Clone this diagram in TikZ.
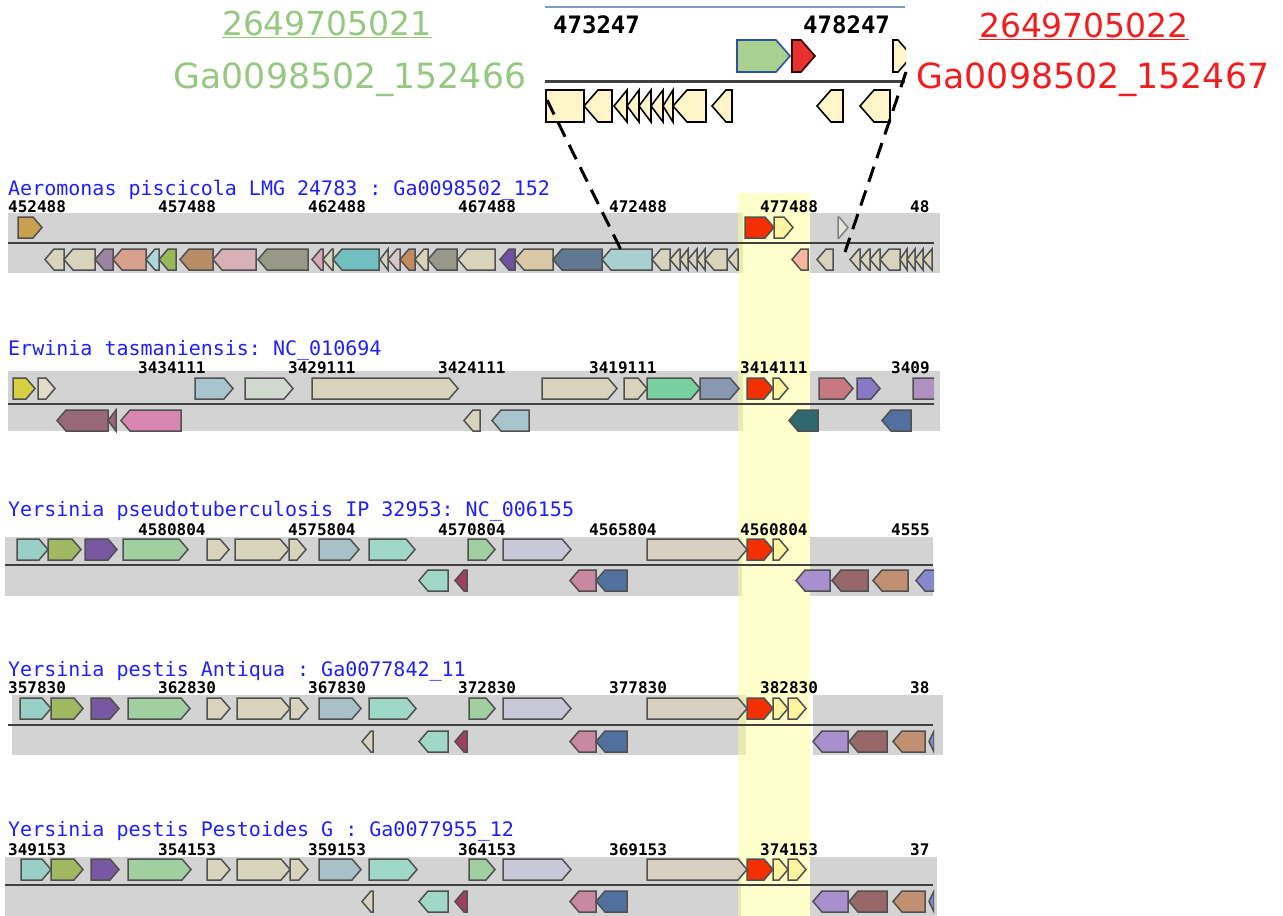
\documentclass[tikz,border=0pt]{standalone}
\usepackage{fontspec}
\setmainfont{DejaVu Sans}
\setmonofont{DejaVu Sans Mono}

\definecolor{bandgray}{HTML}{D3D3D3}
\definecolor{hilite}{HTML}{FFFF99}
\definecolor{genegray}{HTML}{505050}
\definecolor{strandgray}{HTML}{404040}
\definecolor{orgblue}{HTML}{2020FA}
\definecolor{idgreen}{HTML}{96C882}
\definecolor{idred}{HTML}{F01E1E}
\definecolor{axisblue}{HTML}{7A9CC0}
\definecolor{zyellow}{HTML}{FFF5C8}
\definecolor{zgreen}{HTML}{A8D090}
\definecolor{zblue}{HTML}{3050A0}
\definecolor{zred}{HTML}{E83030}
\definecolor{cGold}{HTML}{C8A050}
\definecolor{cBeige}{HTML}{D8D4BC}
\definecolor{cMauve}{HTML}{9A85A0}
\definecolor{cSalmon}{HTML}{D8A08C}
\definecolor{cIce}{HTML}{A8D8DC}
\definecolor{cLeaf}{HTML}{98B858}
\definecolor{cBrown}{HTML}{B88C64}
\definecolor{cRose}{HTML}{D8B0B8}
\definecolor{cStone}{HTML}{989888}
\definecolor{cPink}{HTML}{D8A8B8}
\definecolor{cTeal}{HTML}{70C0C0}
\definecolor{cBlush}{HTML}{D8C8C8}
\definecolor{cRust}{HTML}{C08C60}
\definecolor{cViolet}{HTML}{7050A0}
\definecolor{cSand}{HTML}{D8C8A8}
\definecolor{cSlate}{HTML}{607890}
\definecolor{cAqua}{HTML}{A8D0D0}
\definecolor{cPeach}{HTML}{F8B8A0}
\definecolor{cRed}{HTML}{F53000}
\definecolor{cLemon}{HTML}{FFF5A0}
\definecolor{cPale}{HTML}{E4E4DC}
\definecolor{cCitron}{HTML}{D8D040}
\definecolor{cCream}{HTML}{E0DCC8}
\definecolor{cSky}{HTML}{A8C4CC}
\definecolor{cMist}{HTML}{D0D8D0}
\definecolor{cMint}{HTML}{78D0A0}
\definecolor{cDusk}{HTML}{8898B0}
\definecolor{cCoral}{HTML}{C87880}
\definecolor{cIris}{HTML}{8878C8}
\definecolor{cLilac}{HTML}{B090C0}
\definecolor{cPlum}{HTML}{986878}
\definecolor{cMagenta}{HTML}{D888B0}
\definecolor{cDeepTeal}{HTML}{306870}
\definecolor{cSteel}{HTML}{5070A0}
\definecolor{cSea}{HTML}{98D0C8}
\definecolor{cOlive}{HTML}{A0B860}
\definecolor{cGrape}{HTML}{7858A0}
\definecolor{cSage}{HTML}{A0D0A0}
\definecolor{cDove}{HTML}{A8C0C8}
\definecolor{cSpray}{HTML}{A0D8C8}
\definecolor{cLav}{HTML}{C8C8D8}
\definecolor{cTaupe}{HTML}{D8D0C0}
\definecolor{cMaroon}{HTML}{A04060}
\definecolor{cOrchid}{HTML}{C888A0}
\definecolor{cLavDark}{HTML}{A890D0}
\definecolor{cCocoa}{HTML}{986868}
\definecolor{cCamel}{HTML}{C09070}
\definecolor{cPeri}{HTML}{8888D0}

\tikzset{
  gene/.style={draw=genegray, line width=1.5pt},
  band/.style={fill=bandgray},
  strand/.style={draw=strandgray, line width=2.2pt},
  orgname/.style={anchor=base west, inner sep=0pt, text=orgblue, font=\fontsize{20}{22}\ttfamily},
  coord/.style={anchor=base west, inner sep=0pt, font=\fontsize{16}{18}\ttfamily\bfseries},
  bigcoord/.style={anchor=base west, inner sep=0pt, font=\fontsize{24}{26}\ttfamily\bfseries},
  geneid/.style={anchor=base, inner sep=0pt, font=\fontsize{33}{36}\selectfont},
  zoomlink/.style={black, line width=3pt, dash pattern=on 16pt off 9pt}
}

% forward / reverse gene: start, end, fill (lane taken from \fT,\fB / \rT,\rB)
\newcommand{\fg}[3]{%
  \pgfmathsetmacro{\hcut}{min(\hlen,#2-#1)}%
  \draw[gene,fill=#3] (#1,\fT) -- ({#2-\hcut},\fT) -- (#2,{(\fT+\fB)/2})
    -- ({#2-\hcut},\fB) -- (#1,\fB) -- cycle;}
\newcommand{\rg}[3]{%
  \pgfmathsetmacro{\hcut}{min(\hlen,#2-#1)}%
  \draw[gene,fill=#3] (#2,\rT) -- ({#1+\hcut},\rT) -- (#1,{(\rT+\rB)/2})
    -- ({#1+\hcut},\rB) -- (#2,\rB) -- cycle;}

\begin{document}
\begin{tikzpicture}[x=1pt,y=-1pt]
\useasboundingbox (0,0) rectangle (1283,916);

\node[geneid, text=idgreen] (idL) at (327,35) {\underline{2649705021}};
\node[geneid, text=idgreen, font=\fontsize{34.7}{38}\selectfont] (locL) at (350,88) {Ga0098502\_152466};
\node[geneid, text=idred] (idR) at (1084,37) {\underline{2649705022}};
\node[geneid, text=idred, font=\fontsize{34.7}{38}\selectfont] (locR) at (1093,88) {Ga0098502\_152467};

\begin{scope}[gene/.style={draw=black, line width=1.6pt}]
\clip (543,0) rectangle (906,130);
\draw[axisblue, line width=2pt] (545,7) -- (905,7);
\node[bigcoord] (z1) at (553,33) {473247};
\node[bigcoord] (z2) at (803,33) {478247};
\def\hlen{14}\def\fT{40}\def\fB{72}\def\rT{90}\def\rB{122}
\fg{737}{790}{zgreen, draw=zblue}
\fg{792}{815}{zred, draw=black!80!red}
\fg{893}{912}{zyellow}
\draw[strandgray, line width=3pt] (545,81) -- (905,81);
\draw[gene, fill=zyellow] (546,\rT) rectangle (584,\rB);
\rg{584}{612}{zyellow}
\rg{614}{627}{zyellow}
\rg{627}{639}{zyellow}
\rg{639}{651}{zyellow}
\rg{651}{663}{zyellow}
\rg{663}{673}{zyellow}
\rg{673}{706}{zyellow}
\rg{712}{732}{zyellow}
\rg{817}{843}{zyellow}
\rg{860}{890}{zyellow}
\end{scope}

\fill[band] (8,213) rectangle (743,273);
\fill[band] (810,213) rectangle (940,273);
\fill[band] (8,371) rectangle (743,431);
\fill[band] (810,371) rectangle (940,431);
\fill[band] (5,537) rectangle (742,596);
\fill[band] (810,537) rectangle (933,596);
\fill[band] (12,695) rectangle (746,755);
\fill[band] (813,695) rectangle (943,755);
\fill[band] (5,857) rectangle (741,916);
\fill[band] (810,857) rectangle (937,916);
\fill[hilite, opacity=0.5] (738,193) rectangle (810,916);

\node[orgname] (org1) at (8,195) {Aeromonas piscicola LMG 24783 : Ga0098502\_152};
\node[orgname] (org2) at (8,355) {Erwinia tasmaniensis: NC\_010694};
\node[orgname] (org3) at (8,516) {Yersinia pseudotuberculosis IP 32953: NC\_006155};
\node[orgname] (org4) at (8,676) {Yersinia pestis Antiqua : Ga0077842\_11};
\node[orgname] (org5) at (8,836) {Yersinia pestis Pestoides G : Ga0077955\_12};

\foreach \x/\n [count=\i] in {8/452488,158/457488,308/462488,458/467488,609/472488,760/477488,910/48}
  \node[coord] (a\i) at (\x,212) {\n};
\foreach \x/\n [count=\i] in {138/3434111,288/3429111,438/3424111,589/3419111,740/3414111,891/3409}
  \node[coord] (b\i) at (\x,373) {\n};
\foreach \x/\n [count=\i] in {138/4580804,288/4575804,438/4570804,589/4565804,740/4560804,891/4555}
  \node[coord] (c\i) at (\x,535) {\n};
\foreach \x/\n [count=\i] in {8/357830,158/362830,308/367830,458/372830,609/377830,760/382830,910/38}
  \node[coord] (d\i) at (\x,693) {\n};
\foreach \x/\n [count=\i] in {8/349153,158/354153,308/359153,458/364153,609/369153,760/374153,910/37}
  \node[coord] (e\i) at (\x,855) {\n};

\begin{scope}
\clip (0,190) rectangle (934,916);
\def\hlen{9}
\draw[strand] (8,243) -- (935,243);
\def\fT{217}\def\fB{238}\def\rT{249}\def\rB{270}
\fg{18}{42}{cGold}
\fg{745}{774}{cRed}
\fg{774}{793}{cLemon}
\fg{838}{848}{cPale, draw=gray}
\rg{45}{64}{cBeige}
\rg{64}{95}{cBeige}
\rg{95}{113}{cMauve}
\rg{113}{146}{cSalmon}
\rg{146}{159}{cIce}
\rg{159}{176}{cLeaf}
\rg{180}{213}{cBrown}
\rg{213}{256}{cRose}
\rg{258}{308}{cStone}
\rg{312}{323}{cPink}
\rg{323}{333}{cBeige}
\rg{333}{379}{cTeal}
\rg{380}{388}{cBeige}
\rg{388}{400}{cBlush}
\rg{400}{415}{cRust}
\rg{415}{428}{cBeige}
\rg{428}{457}{cStone}
\rg{458}{495}{cBeige}
\rg{500}{515}{cViolet}
\rg{515}{553}{cSand}
\rg{553}{602}{cSlate}
\rg{602}{652}{cAqua}
\rg{652}{670}{cBeige}
\rg{670}{680}{cBeige}
\rg{680}{688}{cBeige}
\rg{688}{697}{cBeige}
\rg{697}{705}{cBeige}
\rg{705}{727}{cBeige}
\rg{728}{738}{cBeige}
\rg{792}{808}{cPeach}
\rg{817}{833}{cBeige}
\rg{850}{860}{cBeige}
\rg{860}{870}{cBeige}
\rg{870}{880}{cBeige}
\rg{880}{900}{cBeige}
\rg{900}{907}{cBeige}
\rg{907}{915}{cBeige}
\rg{915}{923}{cBeige}
\rg{923}{932}{cBeige}

\draw[strand] (8,404) -- (935,404);
\def\fT{378}\def\fB{399}\def\rT{410}\def\rB{431}
\fg{13}{35}{cCitron}
\fg{38}{55}{cCream}
\fg{195}{233}{cSky}
\fg{245}{293}{cMist}
\fg{312}{458}{cBeige}
\fg{542}{617}{cBeige}
\fg{624}{647}{cBeige}
\fg{647}{700}{cMint}
\fg{700}{739}{cDusk}
\fg{747}{773}{cRed}
\fg{773}{788}{cLemon}
\fg{819}{853}{cCoral}
\fg{857}{880}{cIris}
\fg{913}{950}{cLilac}
\rg{57}{108}{cPlum}
\rg{108}{116}{cPlum}
\rg{121}{181}{cMagenta}
\rg{464}{480}{cBeige}
\rg{492}{529}{cSky}
\rg{789}{818}{cDeepTeal}
\rg{882}{911}{cSteel}

\draw[strand] (5,565) -- (933,565);
\def\fT{539}\def\fB{560}\def\rT{570}\def\rB{591}
\fg{17}{48}{cSea}
\fg{48}{81}{cOlive}
\fg{85}{117}{cGrape}
\fg{123}{188}{cSage}
\fg{207}{229}{cBeige}
\fg{235}{289}{cBeige}
\fg{289}{306}{cBeige}
\fg{319}{359}{cDove}
\fg{369}{415}{cSpray}
\fg{468}{495}{cSage}
\fg{503}{571}{cLav}
\fg{647}{747}{cTaupe}
\fg{747}{773}{cRed}
\fg{773}{788}{cLemon}
\rg{419}{448}{cSpray}
\rg{455}{467}{cMaroon}
\rg{570}{596}{cOrchid}
\rg{596}{627}{cSteel}
\rg{796}{830}{cLavDark}
\rg{832}{868}{cCocoa}
\rg{873}{908}{cCamel}
\rg{916}{945}{cPeri}

\draw[strand] (8,725) -- (933,725);
\def\fT{698}\def\fB{719}\def\rT{731}\def\rB{752}
\fg{20}{51}{cSea}
\fg{51}{83}{cOlive}
\fg{91}{119}{cGrape}
\fg{128}{190}{cSage}
\fg{207}{230}{cBeige}
\fg{237}{290}{cBeige}
\fg{290}{308}{cBeige}
\fg{319}{361}{cDove}
\fg{369}{416}{cSpray}
\fg{469}{495}{cSage}
\fg{503}{571}{cLav}
\fg{647}{747}{cTaupe}
\fg{747}{773}{cRed}
\fg{773}{788}{cLemon}
\fg{788}{806}{cLemon}
\rg{362}{373}{cBeige}
\rg{419}{448}{cSpray}
\rg{455}{467}{cMaroon}
\rg{570}{596}{cOrchid}
\rg{596}{627}{cSteel}
\rg{813}{848}{cLavDark}
\rg{849}{887}{cCocoa}
\rg{893}{925}{cCamel}
\rg{929}{934}{cPeri}

\draw[strand] (5,885) -- (933,885);
\def\fT{859}\def\fB{880}\def\rT{891}\def\rB{912}
\fg{21}{51}{cSea}
\fg{51}{83}{cOlive}
\fg{91}{119}{cGrape}
\fg{128}{191}{cSage}
\fg{207}{230}{cBeige}
\fg{237}{290}{cBeige}
\fg{290}{308}{cBeige}
\fg{319}{361}{cDove}
\fg{369}{417}{cSpray}
\fg{469}{495}{cSage}
\fg{503}{571}{cLav}
\fg{647}{747}{cTaupe}
\fg{747}{773}{cRed}
\fg{773}{788}{cLemon}
\fg{788}{806}{cLemon}
\rg{362}{373}{cBeige}
\rg{419}{448}{cSpray}
\rg{455}{467}{cMaroon}
\rg{570}{596}{cOrchid}
\rg{596}{627}{cSteel}
\rg{813}{848}{cLavDark}
\rg{849}{887}{cCocoa}
\rg{893}{925}{cCamel}
\rg{929}{934}{cPeri}
\end{scope}

\coordinate (zoomL) at (547,100);
\coordinate (hitL) at (624,256);
\coordinate (zoomR) at (906,72);
\coordinate (hitR) at (845,252);
\draw[zoomlink] (zoomL) -- (hitL);
\draw[zoomlink] (zoomR) -- (hitR);
\end{tikzpicture}
\end{document}
